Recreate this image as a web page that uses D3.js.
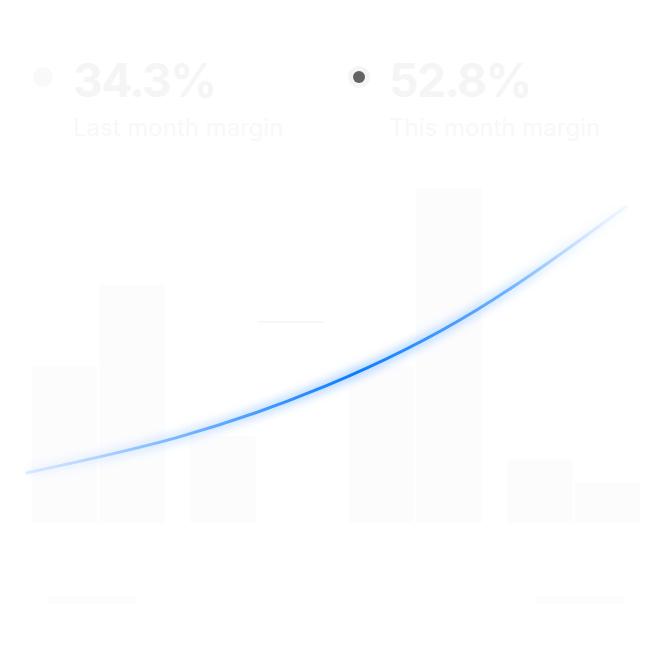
<!DOCTYPE html>
<html><head><meta charset="utf-8">
<script src="https://cdn.jsdelivr.net/npm/d3@7"></script>
<style>html,body{margin:0;padding:0;background:#fff;}svg{display:block;}</style>
</head><body>
<script>
// ---- data ----
const groups = ["G1", "G2", "G3", "G4"];
const series = ["Last month", "This month"];
const lastMonth = [47, 26, 47, 19];
const thisMonth = [71, 60, 100, 12];
const thisMonthOutlineOnly = [false, true, false, false];
const trendX = [0, 1, 2, 3, 4];
const trendValues = [15, 25.5, 41, 63.5, 94.5];
const kpiValues = ["34.3%", "52.8%"];
const kpiLabels = ["Last month margin", "This month margin"];

const W = 672, H = 672;
const svg = d3.select("body").append("svg").attr("width", W).attr("height", H);
const defs = svg.append("defs");

const x0 = d3.scaleBand().domain(groups).range([19, 653]).paddingInner(0.16).paddingOuter(0.08);
const x1 = d3.scaleBand().domain(series).range([0, x0.bandwidth()]).paddingInner(0.03);
const y = d3.scaleLinear().domain([0, 100]).range([523, 188]);
const xt = d3.scaleLinear().domain([0, 4]).range([27, 626]);

// bars
const barColor = "#fcfcfd";
const g = svg.append("g");
groups.forEach((grp, i) => {
  const vals = [lastMonth[i], thisMonth[i]];
  series.forEach((s, j) => {
    const xx = x0(grp) + x1(s);
    if (j === 1 && thisMonthOutlineOnly[i]) {
      g.append("rect").attr("x", xx).attr("y", y(vals[j]) - 1).attr("width", x1.bandwidth()).attr("height", 2).attr("fill", "#f7f7f7");
    } else {
      g.append("rect").attr("x", xx).attr("y", y(vals[j])).attr("width", x1.bandwidth()).attr("height", y(0) - y(vals[j])).attr("fill", barColor);
    }
  });
});

// trend line with glow
const grad = defs.append("linearGradient").attr("id", "lg").attr("gradientUnits", "userSpaceOnUse")
  .attr("x1", xt(0)).attr("x2", xt(4)).attr("y1", 0).attr("y2", 0);
[[0, "#c4ddff", 0.6], [0.2, "#8cc0ff", 1], [0.55, "#0a7bff", 1], [0.8, "#6db0ff", 1], [1, "#e8f2ff", 0.5]]
  .forEach(s => grad.append("stop").attr("offset", s[0]).attr("stop-color", s[1]).attr("stop-opacity", s[2]));
const filt = defs.append("filter").attr("id", "glow").attr("x", "-20%").attr("y", "-50%").attr("width", "140%").attr("height", "200%");
filt.append("feGaussianBlur").attr("stdDeviation", 5);

const line = d3.line().x((d, i) => xt(trendX[i])).y(d => y(d)).curve(d3.curveNatural);
svg.append("path").datum(trendValues).attr("d", line).attr("fill", "none")
  .attr("stroke", "url(#lg)").attr("stroke-width", 9).attr("opacity", 0.35).attr("filter", "url(#glow)");
svg.append("path").datum(trendValues).attr("d", line).attr("fill", "none")
  .attr("stroke", "url(#lg)").attr("stroke-width", 3).attr("stroke-linecap", "round");

// KPIs
const kx = [73, 389];
const dotX = [43, 359];
kpiValues.forEach((v, i) => {
  svg.append("text").attr("x", kx[i]).attr("y", 97).text(v)
    .attr("font-family", "Inter, sans-serif").attr("font-weight", 700).attr("font-size", 46)
    .attr("fill", "#f5f5f5").attr("letter-spacing", -1.5);
  svg.append("text").attr("x", kx[i]).attr("y", 136).text(kpiLabels[i])
    .attr("font-family", "Inter, sans-serif").attr("font-weight", 400).attr("font-size", 24)
    .attr("fill", "#f8f8f8");
});
svg.append("circle").attr("cx", dotX[0]).attr("cy", 77).attr("r", 10).attr("fill", "#f9f9f9");
svg.append("circle").attr("cx", dotX[1]).attr("cy", 77).attr("r", 11).attr("fill", "#f5f5f5");
svg.append("circle").attr("cx", dotX[1]).attr("cy", 77).attr("r", 6).attr("fill", "#636363");

// bottom faint axis labels and line
svg.append("rect").attr("x", 48).attr("y", 596).attr("width", 88).attr("height", 8).attr("fill", "#fcfcfc");
svg.append("rect").attr("x", 536).attr("y", 596).attr("width", 88).attr("height", 8).attr("fill", "#fcfcfc");
svg.append("line").attr("x1", 48).attr("x2", 624).attr("y1", 620).attr("y2", 620).attr("stroke", "#fdfdfd");
</script>
</body></html>
